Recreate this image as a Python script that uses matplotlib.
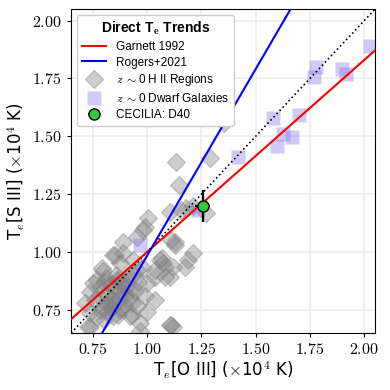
import numpy as np
import matplotlib
matplotlib.use('Agg')
import matplotlib.pyplot as plt
from matplotlib.ticker import FuncFormatter

plt.rcParams['mathtext.fontset'] = 'cm'
plt.rcParams['font.family'] = ['DejaVu Sans']

# z~0 HII regions: T_e[O III], T_e[S III] (1e4 K)
hii_toiii = [1.356, 1.135, 1.288, 1.147, 1.212, 1.180, 1.158, 1.105, 1.273, 1.005,
             0.982, 0.890, 0.952, 1.112, 1.128, 0.844, 1.067, 1.074, 1.211, 1.189,
             1.173, 1.120, 1.082, 1.036, 0.982, 0.791, 0.753, 1.036, 0.990, 0.952,
             0.929, 1.112, 0.967, 0.715, 0.738, 0.800, 0.990, 0.852, 0.875, 0.799,
             0.768, 0.738, 0.738, 0.730, 0.784, 0.829, 0.890, 0.936, 0.998, 0.998,
             0.967, 0.921, 0.875, 0.845, 0.822, 0.860, 0.829, 0.913, 0.952, 1.036,
             1.059, 1.105, 1.082, 1.105, 0.890, 0.936, 0.760, 0.784, 1.120, 1.128,
             0.810, 0.830, 0.850, 0.870, 0.890, 0.905, 0.820, 0.840, 0.860, 0.880,
             0.900, 0.920, 0.800, 0.815, 0.835, 0.855, 0.875, 0.895, 0.910, 0.780,
             0.795, 0.812, 0.848, 0.866, 0.884, 0.930, 0.945, 0.960, 0.770, 0.940]
hii_tsiii = [1.557, 1.390, 1.405, 1.290, 1.200, 1.190, 1.182, 1.175, 1.168, 1.146,
             1.096, 1.045, 1.067, 1.053, 1.031, 0.988, 0.974, 0.952, 0.995, 0.966,
             0.937, 0.937, 0.894, 0.923, 0.930, 0.930, 0.866, 0.793, 0.810, 0.765,
             0.729, 0.686, 0.657, 0.779, 0.678, 0.707, 1.110, 0.988, 0.952, 0.916,
             0.880, 0.829, 0.736, 0.678, 0.750, 0.793, 0.822, 0.844, 0.866, 0.743,
             0.693, 0.722, 0.750, 0.722, 0.765, 0.880, 0.858, 0.900, 0.923, 0.894,
             0.966, 0.894, 0.937, 0.686, 0.995, 0.966, 0.793, 0.851, 0.678, 1.045,
             0.820, 0.860, 0.840, 0.800, 0.870, 0.850, 0.780, 0.760, 0.880, 0.760,
             0.810, 0.800, 0.870, 0.740, 0.800, 0.900, 0.830, 0.770, 0.880, 0.810,
             0.760, 0.890, 0.770, 0.730, 0.860, 0.780, 0.830, 0.870, 0.720, 0.900]

# z~0 dwarf galaxies
dwarf_toiii = [2.025, 1.777, 1.767, 1.897, 1.918, 1.578, 1.698, 1.628, 1.666, 1.599,
               1.420, 1.234, 0.967]
dwarf_tsiii = [1.890, 1.800, 1.758, 1.790, 1.768, 1.580, 1.590, 1.510, 1.499, 1.459,
               1.410, 1.180, 1.030]

# CECILIA D40
d40_toiii, d40_toiii_err = 1.257, 0.034
d40_tsiii, d40_tsiii_err = 1.20, 0.07

# relations
garnett_slope, garnett_icpt = 0.83, 0.17
rogers_slope, rogers_icpt = 1 / 0.62, -0.39 / 0.62

lim = (0.65, 2.05)
xx = np.linspace(lim[0], lim[1], 200)

fig = plt.figure(figsize=(3.9, 3.9), dpi=100)
ax = fig.add_axes([0.182, 0.146, 0.780, 0.831])

ax.grid(True, color='#efefef', lw=1.3, zorder=0)
ax.set_axisbelow(True)

lab_hii = r'$z$ ${\sim}$0 H II Regions'
lab_dwarf = r'$z$ ${\sim}$0 Dwarf Galaxies'

ax.plot(hii_toiii, hii_tsiii, 'D', ms=9, color='gray', mec='gray', alpha=0.38,
        ls='none', zorder=2, label=lab_hii)
ax.plot(dwarf_toiii, dwarf_tsiii, 's', ms=10, color='mediumslateblue', mec='none',
        alpha=0.35, ls='none', zorder=2, label=lab_dwarf)

ax.plot(xx, xx, ':', color='k', lw=1.2, zorder=3)
ax.plot(xx, garnett_slope * xx + garnett_icpt, color='red', lw=1.5, zorder=4,
        label='Garnett 1992')
ax.plot(xx, rogers_slope * xx + rogers_icpt, color='blue', lw=1.5, zorder=4,
        label='Rogers+2021')

ax.errorbar(d40_toiii, d40_tsiii, xerr=d40_toiii_err, yerr=d40_tsiii_err,
            fmt='o', ms=8, mfc='limegreen', mec='k', mew=1, ecolor='k',
            elinewidth=1.6, capsize=0, zorder=6, label='CECILIA: D40')

ax.set_xlim(lim)
ax.set_ylim(lim)
ticks = [0.75, 1.00, 1.25, 1.50, 1.75, 2.00]
ax.set_xticks(ticks)
ax.set_yticks(ticks)
fmt = FuncFormatter(lambda v, p: r'$%.2f$' % v)
ax.xaxis.set_major_formatter(fmt)
ax.yaxis.set_major_formatter(fmt)
ax.tick_params(labelsize=11.5, length=3, width=0.8)

ax.set_xlabel(r'T$_e$[O III] ($\times$10$^4$ K)', fontsize=12, labelpad=2)
ax.set_ylabel(r'T$_e$[S III] ($\times$10$^4$ K)', fontsize=12, labelpad=4)

handles, labels = ax.get_legend_handles_labels()
order = ['Garnett 1992', 'Rogers+2021', lab_hii, lab_dwarf, 'CECILIA: D40']
hmap = dict(zip(labels, handles))
leg = ax.legend([hmap[k] for k in order], order, loc='upper left',
                prop={'family': 'Liberation Sans', 'size': 8.5},
                title=r'Direct T$_\mathbf{e}$ Trends',
                title_fontproperties={'family': 'Liberation Sans', 'weight': 'bold', 'size': 10},
                framealpha=1, borderpad=0.4, labelspacing=0.32, handlelength=2.1)
leg.set_zorder(10)

fig.savefig('out.png', dpi=100)
